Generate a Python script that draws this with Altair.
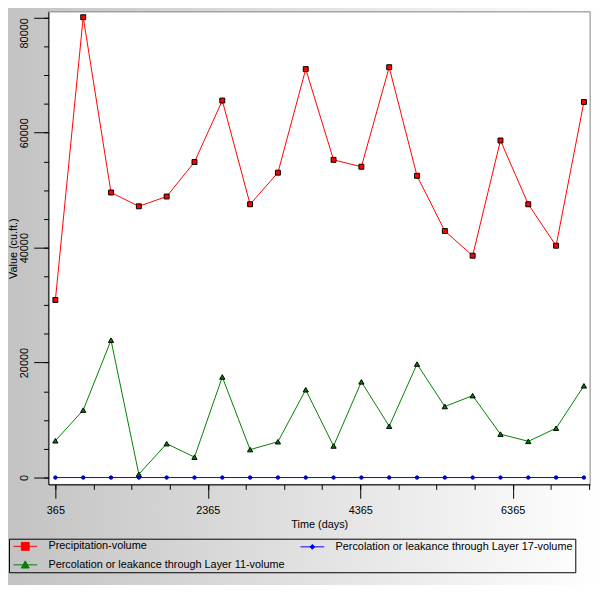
import altair as alt
import pandas as pd

days = [365, 730, 1095, 1460, 1825, 2190, 2555, 2920, 3285, 3650,
        4015, 4380, 4745, 5110, 5475, 5840, 6205, 6570, 6935, 7300]
precip = [30900, 80100, 49600, 47200, 48900, 54900, 65600, 47550, 53050, 71070,
          55280, 54080, 71400, 52500, 42900, 38600, 58650, 47550, 40340, 65350]
layer11 = [6400, 11730, 23900, 570, 5890, 3550, 17500, 4860, 6230, 15280,
           5490, 16650, 8930, 19740, 12360, 14250, 7550, 6300, 8580, 15960]
layer17 = [0, 0, 0, 0, 0, 0, 0, 0, 0, 0,
           0, 0, 0, 0, 0, 0, 0, 0, 0, 0]

# legend entries fill column by column: col 1 = precip, layer 11; col 2 = layer 17
series_names = ["Precipitation-volume",
                "Percolation or leakance through Layer 11-volume",
                "Percolation or leakance through Layer 17-volume"]
series_colors = ["#ff0000", "#008000", "#0000ff"]
legend_paths = [
    "M-3,0L3,0M-1,-1L1,-1L1,1L-1,1Z",
    "M-3,0L3,0M0,-1L1,0.8L-1,0.8Z",
    "M-3,0L3,0M0,-0.6L0.6,0L0,0.6L-0.6,0Z",
]

x_major = [365, 2365, 4365, 6365]
x_minor = list(range(365, 7366, 500))
y_major = [0, 20000, 40000, 60000, 80000]
y_minor = list(range(0, 80001, 5000))

rows = []
for d, a, b, c in zip(days, precip, layer11, layer17):
    rows.append({"day": d, "value": a, "series": series_names[0]})
    rows.append({"day": d, "value": b, "series": series_names[1]})
    rows.append({"day": d, "value": c, "series": series_names[2]})
df = pd.DataFrame(rows)

FONT = "Liberation Sans"
W, H = 549, 479

xs = alt.Scale(domain=[274, 7381], nice=False, zero=False)
ys = alt.Scale(domain=[-1202, 81030], nice=False, zero=False)

x_axis_major = alt.Axis(orient="bottom", values=x_major, format="d", tickSize=14,
                        labelPadding=6, grid=False, title="Time (days)",
                        domainColor="black", tickColor="black", labelColor="black",
                        titleColor="black", labelFont=FONT, labelFontSize=11,
                        titleFont=FONT, titleFontSize=11, titleFontWeight="normal",
                        titlePadding=4, zindex=1)
y_axis_major = alt.Axis(orient="left", values=y_major, format="d", tickSize=15,
                        labelPadding=4, labelAngle=270,
                        labelAlign={"condition": {"test": "datum.value == 80000", "value": "right"},
                                    "value": "center"},
                        labelBaseline="bottom", grid=False, title="Value (cu.ft.)",
                        domainColor="black", tickColor="black", labelColor="black",
                        titleColor="black", labelFont=FONT, labelFontSize=11,
                        titleFont=FONT, titleFontSize=11, titleFontWeight="normal",
                        titlePadding=0, zindex=1)
x_axis_minor = alt.Axis(orient="bottom", values=x_minor, tickSize=5, labels=False,
                        domain=False, grid=False, title=None, tickColor="black", zindex=1)
y_axis_minor = alt.Axis(orient="left", values=y_minor, tickSize=5, labels=False,
                        domain=False, grid=False, title=None, tickColor="black", zindex=1)

one = pd.DataFrame({"k": [0]})
bg = alt.Chart(one).mark_rect(
    fill=alt.Gradient(gradient="linear",
                      stops=[alt.GradientStop(color="#c2c2c2", offset=0),
                             alt.GradientStop(color="#ffffff", offset=1)],
                      x1=0, x2=1, y1=0, y2=0),
    stroke="transparent",
).encode(x=alt.value(-48), x2=alt.value(W + 10), y=alt.value(-10), y2=alt.value(H + 110))

plotbg = alt.Chart(one).mark_rect(fill="white", stroke="#808080", strokeWidth=1).encode(
    x=alt.value(0), x2=alt.value(W), y=alt.value(0), y2=alt.value(H))


def line(name, color, axes=False):
    return alt.Chart(df).transform_filter(alt.datum.series == name).mark_line(
        strokeWidth=1, color=color).encode(
        x=alt.X("day:Q", scale=xs, axis=x_axis_major if axes else None),
        y=alt.Y("value:Q", scale=ys, axis=y_axis_major if axes else None),
    )


def pts(name, shape, fill, stroke, size):
    return alt.Chart(df).transform_filter(alt.datum.series == name).mark_point(
        shape=shape, filled=True, fill=fill, stroke=stroke, strokeWidth=1,
        size=size, opacity=1).encode(
        x=alt.X("day:Q", scale=xs, axis=None),
        y=alt.Y("value:Q", scale=ys, axis=None),
    )


l_red = line(series_names[0], series_colors[0], axes=True)
l_green = line(series_names[1], series_colors[1])
l_blue = line(series_names[2], series_colors[2])
p_red = pts(series_names[0], "square", "#ff0000", "black", 25)
p_green = pts(series_names[1], "triangle-up", "#008000", "black", 28)
p_blue = pts(series_names[2], "circle", "#0000ff", "#0000a0", 12)

leg = dict(orient="none", legendX=-40, legendY=534, columns=2, title=None,
           strokeColor="black", padding=2, symbolOffset=9, labelOffset=18,
           columnPadding=13, rowPadding=6, labelFont=FONT, labelFontSize=11,
           labelColor="black", symbolSize=64, symbolStrokeWidth=1,
           symbolOpacity=1, labelLimit=400, zindex=1)

legend_layer = alt.Chart(df).mark_point(
    filled=True, strokeWidth=1, opacity=0).encode(
    x=alt.X("day:Q", scale=xs, axis=x_axis_minor),
    y=alt.Y("value:Q", scale=ys, axis=y_axis_minor),
    fill=alt.Fill("series:N", scale=alt.Scale(domain=series_names, range=series_colors),
                  legend=alt.Legend(**leg)),
    stroke=alt.Stroke("series:N", scale=alt.Scale(domain=series_names, range=series_colors),
                      legend=alt.Legend(**leg)),
    shape=alt.Shape("series:N", scale=alt.Scale(domain=series_names, range=legend_paths),
                    legend=alt.Legend(**leg)),
)

chart = alt.layer(bg, plotbg, l_red, l_green, l_blue, p_red, p_green, p_blue,
                  legend_layer).resolve_axis(
    x="independent", y="independent"
).properties(
    width=W, height=H,
    autosize=alt.AutoSizeParams(type="none"),
    padding={"left": 41, "top": 0, "right": 7, "bottom": 98},
).configure_view(stroke=None)

chart.save("out.html", embed_options={"renderer": "svg", "actions": False})
